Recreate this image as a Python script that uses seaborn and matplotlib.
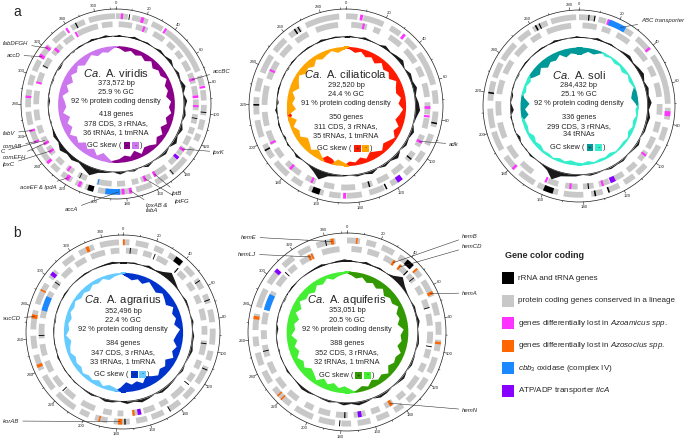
import numpy as np
import matplotlib
matplotlib.use('Agg')
import matplotlib.pyplot as plt
import seaborn as sns
from matplotlib.patches import Rectangle

sns.set_theme(style='white')
plt.rcParams['font.family'] = ['Liberation Sans', 'DejaVu Sans']
plt.rcParams['mathtext.fontset'] = 'custom'
plt.rcParams['mathtext.rm'] = 'Liberation Sans'
plt.rcParams['mathtext.it'] = 'Liberation Sans:italic'
plt.rcParams['mathtext.bf'] = 'Liberation Sans:bold'

# ---------------- data (kb positions) ----------------
# gene blocks (start, end) on the outer (fwd) and inner (rev) ring
# features: (kb, ring, kind, width kb)  kind: k=rRNA/tRNA, m=Azoamicus lost, o=Azosocius lost, b=cbb3, p=tlcA
# notes: (label, kb, ring, x px, y px, ha)

vir_len = 373.572
vir_info = ['viridis', '373,572 bp', '25.9 % GC', '92 % protein coding density',
            '418 genes', '378 CDS, 3 rRNAs,', '36 tRNAs, 1 tmRNA']
vir_fwd = [(0, 8), (11, 22), (25, 33), (36, 71), (74, 81), (84, 91), (94, 101), (104, 111),
           (114, 119), (124, 130), (133, 147), (150, 159), (162, 173), (176, 186), (188, 199),
           (202, 208), (210, 215), (218, 226), (229, 235), (238, 251), (254, 263), (266, 275),
           (278, 290), (293, 300), (303, 311), (313, 323), (327, 337), (342, 352), (355, 373)]
vir_rev = [(2, 12), (15, 24), (29, 38), (42, 48), (51, 57), (60, 68), (70, 78), (80, 87),
           (90, 98), (101, 108), (111, 116), (118, 125), (127, 134), (137, 143), (147, 158),
           (160, 168), (170, 175), (180, 186), (190, 201), (209, 216), (220, 226), (230, 236),
           (240, 247), (249, 255), (258, 264), (268, 276), (280, 290), (296, 304), (308, 316),
           (320, 329), (332, 340), (344, 360), (363, 371)]
vir_feat = [(4, 0, 'm', 1.5), (18, 0, 'm', 2), (21, 1, 'm', 1.5), (35, 0, 'm', 1.5), (9, 0, 'k', 0.6),
            (346, 0, 'k', 0.8), (75, 1, 'm', 2), (82, 0, 'm', 1.5), (88, 1, 'm', 2), (95, 1, 'm', 1.5),
            (99, 0, 'k', 0.6), (104, 1, 'k', 0.6), (129, 1, 'm', 2), (136, 1, 'p', 2.5), (146, 0, 'k', 0.6),
            (157, 1, 'm', 2), (165, 1, 'm', 2), (177, 0, 'm', 2), (182, 0, 'm', 2), (185, 0, 'm', 1.5),
            (189, 0, 'b', 10), (200, 1, 'b', 0.8), (204, 0, 'k', 4), (212, 0, 'm', 2), (214, 1, 'k', 0.6),
            (221, 0, 'm', 2.5), (224, 1, 'm', 1.5), (238, 0, 'm', 2), (243, 1, 'm', 2), (250, 1, 'm', 2),
            (254, 0, 'm', 1.5), (262, 0, 'm', 1.5), (285, 0, 'm', 1.5), (296, 1, 'm', 1.5),
            (309, 1, 'k', 0.6), (314, 0, 'm', 2.5), (321, 0, 'm', 2), (324, 1, 'm', 2),
            (339, 0, 'm', 1.5), (343, 1, 'm', 1.5)]
vir_gc = [2, 0, 3, 1, 2, 0, 3, 1, 4, 0, 3, 1, 5, 0, 4, 1, 3, 0, 4, 1, 5, 0, 3, 1,
          0, 3, -1, 2, 0, 3, 0, 2, 4, 11, 6, 2, 5, 3, 7, 2, 4, 1, -1, 1, 0, -2, 1, 0,
          -1, 1, -2, 0, 1, -1, 2, 0, 3, 1, 3, 0]
vir_skew = [3, 7, 4, 8, 5, 9, 4, 10, 6, 8, 3, 9, 7, 11, 5, 8, 4, 10, 6, 12, 5, 9, 3, 8,
            10, 4, 12, 6, 9, 5, 3, -6, -11, -5, -12, -7, -13, -6, -10, -4, -12, -8,
            -14, -6, -11, -9, -5, -12, -7, -13, -6, -10, -5, -11, -8, -4, -9, -6, -8, -3]
vir_notes = [('fabDFGH', 321, 0, 3, 43, 'left'), ('accD', 314, 0, 7, 55, 'left'),
             ('accBC', 75, 1, 213, 71, 'left'), ('fabV', 262, 0, 3, 133, 'left'),
             ('comAB', 254, 0, 3, 146, 'left'), ('C', 252, 1, 1, 151, 'left'),
             ('comEFH', 250, 1, 3, 157, 'left'), ('lpxC', 243, 1, 3, 164, 'left'),
             ('lpxK', 129, 1, 213, 152, 'left'), ('lptB', 157, 1, 172, 193, 'left'),
             ('lptFG', 165, 1, 175, 201, 'left'), ('lpxAB &\nfabA', 177, 0, 146, 208, 'left'),
             ('accA', 185, 0, 78, 209, 'right'), ('aceEF & lpdA', 221, 0, 57, 187, 'right')]

cil_len = 292.520
cil_info = ['ciliaticola', '292,520 bp', '24.4 % GC', '91 % protein coding density',
            '350 genes', '311 CDS, 3 rRNAs,', '35 tRNAs, 1 tmRNA']
cil_fwd = [(0, 6), (9, 20), (24, 30), (34, 41), (44, 62), (65, 72), (76, 84), (88, 94), (98, 104),
           (108, 113), (116, 122), (126, 134), (138, 146), (149, 155), (158, 166), (170, 176),
           (179, 188), (191, 199), (203, 212), (215, 224), (227, 234), (237, 247), (250, 258),
           (261, 268), (271, 289)]
cil_rev = [(3, 12), (16, 20), (26, 34), (38, 47), (50, 56), (60, 68), (71, 78), (80, 86), (90, 97),
           (101, 107), (111, 118), (121, 128), (131, 137), (141, 149), (153, 159), (164, 170),
           (174, 184), (188, 194), (197, 205), (208, 216), (220, 231), (235, 246), (250, 258),
           (262, 270), (275, 288)]
cil_feat = [(8, 0, 'm', 1.5), (10, 1, 'm', 1.2), (32, 0, 'm', 1.5), (74, 1, 'm', 1.5), (79, 1, 'm', 1.2),
            (82, 0, 'k', 0.8), (94, 1, 'm', 1.5), (105, 1, 'k', 0.8), (117, 0, 'p', 3), (125, 0, 'k', 0.8),
            (133, 1, 'k', 0.8), (147, 0, 'm', 1.5), (162, 0, 'k', 4), (166, 1, 'm', 1.2), (180, 1, 'm', 1.5),
            (196, 0, 'k', 0.8), (198, 1, 'm', 1.2), (220, 0, 'k', 0.8), (240, 1, 'm', 1.2),
            (265, 0, 'k', 0.8), (267, 0, 'k', 0.6)]
cil_gc = [2, 0, 3, 1, 0, 4, 1, 3, 5, 0, 4, 2, 5, 1, 4, 6, 2, 0, 4, 1, 3, 0, 5, 1,
          3, 0, 4, 1, 2, 0, 1, 2, 4, 12, 5, 1, 0, 3, -1, 2, -2, 1, 2, -1, 3, -2, 1, 2,
          0, 1, -1, 2, 0, 1, 2, 0, 3, 1, 2, 0]
cil_skew = [3, 7, 4, 9, 6, 11, 5, 10, 7, 12, 5, 9, 11, 6, 10, 4, 8, 12, 5, 9, 3, 7, 10, 4,
            8, 11, 5, 9, 4, 6, -5, -8, 7, 9, -6, -11, -5, -10, -13, -6, -9, -4,
            -11, 6, -12, -7, -10, -5, -12, -8, -4, -10, -7, -11, -5, -9, -6, -3, -7, -4]
cil_notes = [('adk', 94, 1, 449, 144, 'left')]

sol_len = 284.432
sol_info = ['soli', '284,432 bp', '25.1 % GC', '92 % protein coding density',
            '336 genes', '299 CDS, 3 rRNAs,', '34 tRNAs']
sol_fwd = [(0, 8), (10, 14), (16, 29), (32, 41), (44, 70), (72, 78), (82, 89), (92, 100), (104, 110),
           (112, 118), (121, 127), (130, 136), (140, 150), (153, 164), (166, 175), (178, 186),
           (190, 200), (202, 212), (216, 226), (228, 236), (238, 248), (251, 258), (260, 268), (270, 283)]
sol_rev = [(2, 10), (13, 18), (22, 30), (35, 44), (48, 54), (58, 66), (70, 76), (80, 86), (89, 96),
           (98, 104), (107, 113), (116, 122), (125, 131), (134, 140), (143, 150), (154, 160),
           (170, 178), (182, 190), (195, 204), (208, 216), (220, 228), (232, 240), (244, 252),
           (256, 262), (266, 280)]
sol_feat = [(16, 0, 'm', 3), (20, 0, 'b', 9), (40, 0, 'm', 1.2), (75, 0, 'm', 2.5), (100, 1, 'm', 1.2),
            (123, 1, 'p', 3), (127, 0, 'k', 0.8), (129, 1, 'm', 1.2), (134, 0, 'k', 0.8), (137, 1, 'k', 0.6),
            (147, 1, 'm', 1.2), (158, 0, 'k', 5), (161, 1, 'm', 1.2), (179, 0, 'm', 1.2), (220, 0, 'k', 0.8),
            (262, 0, 'k', 0.8), (264, 0, 'k', 0.6), (5, 0, 'k', 0.6), (8, 0, 'k', 0.6)]
sol_gc = [1, 0, 3, 1, 2, 0, 2, 4, 1, 3, 5, 1, 4, 2, 5, 1, 4, 2, 2, 0, 3, 1, 0, 2,
          1, 2, 0, 1, 2, 0, 2, 3, 5, 13, 4, 1, 0, 2, -1, 1, -3, 1, -1, 2, -4, 0, -2, 1,
          0, -1, 1, 2, 0, 1, 2, 0, 3, 1, 0, 2]
sol_skew = [9, 5, 7, 3, -4, -2, -5, -3, -6, -2, -5, -3, 6, 9, 4, -4, -2, -5, -3, -6, -2, -4, -3, -2,
            -5, -3, -4, -2, -5, -3, -4, -6, -3, -5, -2, -4, -3, -6, -4, -7, -3, -5,
            -4, 10, 6, 12, 4, -5, -3, -6, 7, 11, 6, 12, 8, 10, 5, 11, 7, 9]
sol_notes = [('ABC transporter', 22, 0, 641, 20, 'left')]

agr_len = 352.496
agr_info = ['agrarius', '352,496 bp', '22.4 % GC', '92 % protein coding density',
            '384 genes', '347 CDS, 3 rRNAs,', '33 tRNAs, 1 tmRNA']
agr_fwd = [(0, 4), (8, 16), (20, 26), (30, 40), (43, 50), (53, 60), (64, 70), (74, 82), (86, 96),
           (100, 106), (110, 122), (126, 134), (138, 146), (150, 158), (161, 168), (172, 182),
           (186, 194), (198, 204), (208, 222), (226, 236), (240, 250), (254, 262), (266, 278),
           (282, 296), (300, 306), (312, 320), (324, 334), (338, 350)]
agr_rev = [(2, 10), (14, 20), (24, 32), (42, 48), (52, 58), (62, 68), (72, 80), (84, 90), (94, 104),
           (108, 114), (118, 124), (130, 140), (144, 150), (154, 162), (164, 170), (176, 180),
           (184, 190), (196, 206), (212, 220), (224, 232), (236, 244), (248, 256), (260, 270),
           (274, 280), (283, 293), (296, 302), (306, 314), (318, 326), (330, 340), (344, 350)]
agr_feat = [(0.5, 0, 'o', 1.2), (37, 0, 'k', 5), (40, 1, 'k', 0.8), (5, 1, 'k', 0.6), (22, 1, 'k', 0.6),
            (55, 0, 'k', 0.6), (68, 0, 'k', 0.6), (96, 1, 'k', 0.6), (112, 0, 'k', 0.6), (126, 1, 'k', 0.6),
            (146, 0, 'k', 0.6), (165, 1, 'p', 2.5), (169, 1, 'o', 1.5), (175, 0, 'k', 0.8),
            (178, 0, 'o', 2.5), (191, 0, 'o', 1), (221, 1, 'k', 0.6), (243, 0, 'o', 2), (262, 1, 'k', 0.6),
            (274, 0, 'o', 2.5), (284, 1, 'b', 10), (291, 0, 'o', 1), (300, 1, 'k', 0.6), (303, 0, 'p', 2.5),
            (330, 0, 'o', 2)]
agr_gc = [1, 2, 0, 3, 1, 4, 10, 5, 1, 0, 2, 1, 0, 2, 0, 2, 1, 3, 1, 0, 2, 0, 1, 2,
          3, 0, 2, 4, 1, 3, 0, 2, 3, 0, 2, 1, 0, 1, -1, 1, 0, 2, -1, 1, 0, 1, -1, 0,
          1, 0, 2, 0, 0, 1, 2, 0, 1, 2, 3, 1]
agr_skew = [5, 9, 6, 10, 4, 8, 11, 6, 9, 12, 5, 10, 7, 11, 4, 9, 12, 6, 10, 5, 13, 8, 11, 6,
            10, 14, 7, 12, 9, 13, 6, -5, -7, -3, -8, -4, -6, -3, -7, -5, -8, -4,
            -6, -9, -3, -7, -5, -8, -4, -6, -3, -7, -5, -8, -4, -6, -3, -7, -4, -2]
agr_notes = [('sucCD', 274, 0, 3, 318, 'left'), ('korAB', 178, 0, 3, 421, 'left')]

aqu_len = 353.051
aqu_info = ['aquiferis', '353,051 bp', '20.5 % GC', '92 % protein coding density',
            '388 genes', '352 CDS, 3 rRNAs,', '32 tRNAs, 1 tmRNA']
aqu_fwd = [(0, 8), (12, 18), (22, 30), (34, 44), (47, 52), (55, 66), (70, 78), (82, 90), (93, 100),
           (104, 114), (118, 126), (130, 136), (140, 146), (150, 158), (162, 170), (174, 180),
           (184, 194), (198, 210), (214, 228), (232, 240), (244, 252), (256, 262), (266, 276),
           (280, 292), (296, 304), (310, 318), (322, 330), (334, 346)]
aqu_rev = [(3, 10), (14, 22), (26, 34), (38, 44), (46, 52), (56, 62), (66, 72), (76, 84), (88, 96),
           (100, 106), (110, 116), (120, 130), (134, 140), (144, 150), (154, 160), (164, 172),
           (176, 184), (188, 196), (200, 206), (212, 220), (224, 232), (236, 244), (248, 256),
           (260, 266), (270, 278), (281, 293), (298, 306), (310, 316), (320, 330), (336, 348)]
aqu_feat = [(6, 0, 'o', 1), (33, 1, 'o', 1.5), (38, 1, 'o', 1.5), (41.6, 0, 'k', 5), (44, 1, 'k', 0.8),
            (47, 0, 'o', 1.2), (50, 1, 'k', 0.6), (64, 0, 'o', 2), (72, 1, 'k', 0.6), (95, 0, 'o', 1.5),
            (98, 1, 'k', 0.6), (146, 1, 'o', 2), (168, 1, 'p', 2.5), (178, 1, 'k', 0.8), (181, 0, 'k', 0.6),
            (220, 0, 'o', 1), (223, 0, 'o', 1), (252, 1, 'k', 0.6), (273.5, 0, 'o', 2), (285, 1, 'b', 11),
            (305, 0, 'p', 2.5), (308, 1, 'k', 0.6), (327, 1, 'o', 1.5), (329, 1, 'o', 1.2),
            (344, 0, 'o', 2), (340, 0, 'k', 0.6)]
aqu_gc = [2, 0, 3, 1, 2, 0, 3, 10, 4, 1, 0, 2, 1, 3, 0, 1, 2, 0, 1, 2, 0, 3, 1, 0,
          2, 3, 0, 2, 4, 1, 3, 0, 2, 1, 0, 2, 3, 1, 0, 2, 0, 1, -1, 1, 0, -2, 1, 0,
          1, -1, 0, 2, 0, 0, 1, 2, 3, 0, 2, 3]
aqu_skew = [4, 8, 5, 10, 7, 11, 6, 12, 8, 10, 5, 11, 9, 13, 6, 10, 8, 12, 5, 9, 7, 11, 4, 9,
            6, 10, 4, 7, 3, -5, -9, -6, -11, -7, -12, -5, -10, -13, -7, -11, -6, -12,
            -8, -13, -6, -11, -9, -14, -7, -12, -5, -10, -8, -12, -6, -9, -4, -8, -5, -3]
aqu_notes = [('hemE', 344, 0, 241, 237, 'left'), ('hemLJ', 328, 1, 238, 254, 'left'),
             ('hemB', 33, 1, 462, 236, 'left'), ('hemCD', 38, 1, 462, 246, 'left'),
             ('hemA', 64, 0, 462, 293, 'left'), ('hemN', 146, 1, 462, 410, 'left')]

legend_labels = ['rRNA and tRNA genes', 'protein coding genes conserved in a lineage',
                 r'genes differentially lost in $\it{Azoamicus\ spp.}$',
                 r'genes differentially lost in $\it{Azosocius\ spp.}$',
                 r'$\it{cbb}_3$ oxidase (complex IV)', r'ATP/ADP transporter $\it{tlcA}$']

# ---------------- style ----------------
GRAY = '#c8c8c8'
kind_color = {'k': '#000000', 'm': '#ff33ff', 'o': '#ff6600', 'b': '#1a88ff', 'p': '#8800ff'}
legend_colors = sns.color_palette(['#000000', GRAY, '#ff33ff', '#ff6600', '#1a88ff', '#8800ff'])

genomes = [
    dict(L=vir_len, info=vir_info, fwd=vir_fwd, rev=vir_rev, feat=vir_feat, gc=vir_gc, skew=vir_skew,
         notes=vir_notes, dark='#8b008b', light='#cc77ee', cx=116, cy=104, R=95),
    dict(L=cil_len, info=cil_info, fwd=cil_fwd, rev=cil_rev, feat=cil_feat, gc=cil_gc, skew=cil_skew,
         notes=cil_notes, dark='#ff1a00', light='#ffa500', cx=346, cy=106, R=97),
    dict(L=sol_len, info=sol_info, fwd=sol_fwd, rev=sol_rev, feat=sol_feat, gc=sol_gc, skew=sol_skew,
         notes=sol_notes, dark='#009999', light='#33eecc', cx=579, cy=106, R=96),
    dict(L=agr_len, info=agr_info, fwd=agr_fwd, rev=agr_rev, feat=agr_feat, gc=agr_gc, skew=agr_skew,
         notes=agr_notes, dark='#0033cc', light='#66ccff', cx=123, cy=332, R=97),
    dict(L=aqu_len, info=aqu_info, fwd=aqu_fwd, rev=aqu_rev, feat=aqu_feat, gc=aqu_gc, skew=aqu_skew,
         notes=aqu_notes, dark='#339900', light='#44ee33', cx=347, cy=332, R=99),
]

W, H = 685, 440
fig = plt.figure(figsize=(W / 100, H / 100), dpi=100)

RING = [(0.895, 0.955), (0.81, 0.87)]
GC_BASE, GC_SCALE = 0.715, 0.0075
SK_BASE, SK_SCALE = 0.615, 0.0078


def fxy(x, y):
    return x / W, 1 - y / H


def box(x, y, w, h, color):
    fig.add_artist(Rectangle((x / W, 1 - (y + h) / H), w / W, h / H, transform=fig.transFigure,
                             facecolor=color, edgecolor='none'))


def draw_genome(g):
    cx, cy, R, L = g['cx'], g['cy'], g['R'], g['L']
    lim = 1.17
    ax = fig.add_axes([(cx - lim * R) / W, 1 - (cy + lim * R) / H, 2 * lim * R / W, 2 * lim * R / H],
                      projection='polar')
    ax.set_theta_zero_location('N')
    ax.set_theta_direction(-1)
    ax.set_ylim(0, lim)
    ax.axis('off')
    th = lambda kb: 2 * np.pi * np.asarray(kb) / L

    # outer scale circle with ticks
    t = np.linspace(0, 2 * np.pi, 500)
    ax.plot(t, np.ones_like(t), color='k', lw=0.5)
    for kb in range(0, int(L) + 1, 10):
        big = kb % 20 == 0
        ax.plot([th(kb)] * 2, [1, 1.03 if big else 1.015], color='k', lw=0.4)
        if big:
            ax.text(th(kb), 1.058, str(kb), fontsize=3.1, ha='center', va='center')

    # gene rings
    for ring, blocks in enumerate([g['fwd'], g['rev']]):
        r0, r1 = RING[ring]
        s = np.array([b[0] for b in blocks])
        e = np.array([b[1] for b in blocks])
        ax.bar(th(s), r1 - r0, width=th(e - s), bottom=r0, align='edge', color=GRAY, lw=0)
    for kb, ring, kind, w in g['feat']:
        r0, r1 = RING[ring]
        ax.bar(th(kb - w / 2), r1 - r0, width=th(w), bottom=r0, align='edge',
               color=kind_color[kind], lw=0)

    # GC content
    gc = np.array(g['gc'], dtype=float)
    n = len(gc)
    tc = 2 * np.pi * (np.arange(n + 2) - 0.5) / n
    gcv = np.concatenate([[gc[-1]], gc, [gc[0]]])
    ax.fill_between(tc, GC_BASE, GC_BASE + GC_SCALE * gcv, color='k', lw=0)
    ax.plot(t, np.full_like(t, GC_BASE), color='k', lw=0.5)

    # GC skew, drawn inward from the ring, coloured by sign
    sk = np.array(g['skew'], dtype=float)
    m = len(sk)
    ts = 2 * np.pi * (np.arange(m + 2) - 0.5) / m
    skv = np.concatenate([[sk[-1]], sk, [sk[0]]])
    for sign, col in [(1, g['dark']), (-1, g['light'])]:
        mag = np.where(np.sign(skv) == sign, np.abs(skv), 0)
        ax.fill_between(ts, SK_BASE - SK_SCALE * mag, SK_BASE, color=col, lw=0)

    # annotations with leader lines
    for label, kb, ring, x, y, ha in g['notes']:
        rr = sum(RING[ring]) / 2
        ax.annotate(label, xy=(th(kb), rr), xycoords='data', xytext=(x, H - y),
                    textcoords='figure pixels', fontsize=4.3, style='italic', ha=ha, va='center',
                    annotation_clip=False, linespacing=1.0,
                    arrowprops=dict(arrowstyle='-', color='#333333', lw=0.4, shrinkA=0, shrinkB=0))

    # centre text
    info = g['info']
    offs = [-0.325, -0.215, -0.12, -0.025, 0.115, 0.21, 0.30]
    fig.text(*fxy(cx, cy + offs[0] * R), r'$\it{Ca.}$ A. ' + info[0], ha='center', va='center',
             fontsize=8)
    for s, o in zip(info[1:], offs[1:]):
        fig.text(*fxy(cx, cy + o * R), s, ha='center', va='center', fontsize=5.3)
    yk = cy + 0.435 * R
    fig.text(*fxy(cx + 0.06 * R, yk), 'GC skew (', ha='right', va='center', fontsize=5.3)
    bs = 0.07 * R
    box(cx + 0.08 * R, yk - bs / 2, bs, bs, g['dark'])
    box(cx + 0.17 * R, yk - bs / 2, bs, bs, g['light'])
    fig.text(*fxy(cx + 0.08 * R + bs / 2, yk), '+', ha='center', va='center', fontsize=4.5)
    fig.text(*fxy(cx + 0.17 * R + bs / 2, yk), '-', ha='center', va='center', fontsize=4.5)
    fig.text(*fxy(cx + 0.25 * R, yk), ')', ha='left', va='center', fontsize=5.3)


for g in genomes:
    draw_genome(g)

fig.text(*fxy(17, 12), 'a', fontsize=10, ha='center', va='center')
fig.text(*fxy(17, 233), 'b', fontsize=10, ha='center', va='center')

# legend
fig.text(*fxy(505, 256), 'Gene color coding', fontsize=6.5, fontweight='bold', ha='left', va='center')
for i, (lab, col) in enumerate(zip(legend_labels, legend_colors)):
    yc = 278 + i * 22.5
    box(502, yc - 6, 12, 12, col)
    fig.text(*fxy(518, yc), lab, fontsize=5.8, ha='left', va='center')

fig.savefig('out.png', dpi=100)
